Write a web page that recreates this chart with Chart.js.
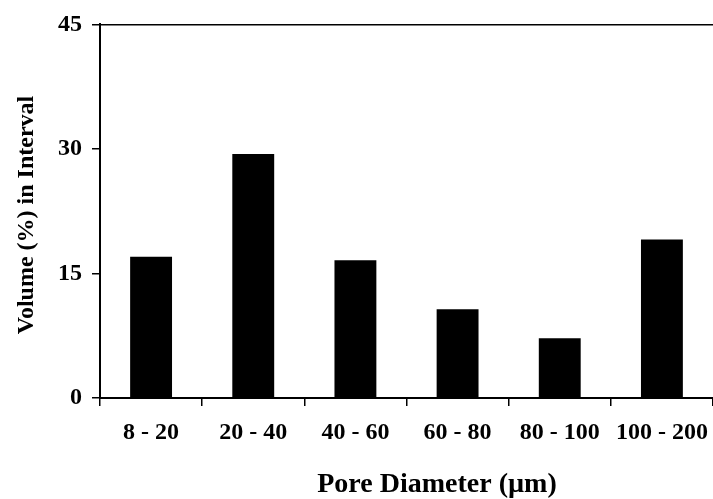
<!DOCTYPE html>
<html>
<head>
<meta charset="utf-8">
<script src="https://cdn.jsdelivr.net/npm/chart.js@4"></script>
<style>
  html, body { margin: 0; padding: 0; background: #fff; overflow: hidden; }
  #wrap { width: 713px; height: 499px; }
</style>
</head>
<body>
<div id="wrap"><canvas id="chart" width="713" height="499"></canvas></div>
<script>
const categories = ["8 - 20", "20 - 40", "40 - 60", "60 - 80", "80 - 100", "100 - 200"];
const volumes = [17.0, 29.4, 16.6, 10.7, 7.2, 19.1];
const yTicks = [0, 15, 30, 45];
const xTitle = "Pore Diameter (\u00b5m)";
const yTitle = "Volume (%) in Interval";

const serif = "'Liberation Serif', 'Times New Roman', serif";

// axis titles sit a bit off-centre in the original, so draw them by hand
const titles = {
  id: "titles",
  afterDraw(chart) {
    const ctx = chart.ctx;
    ctx.save();
    ctx.fillStyle = "#000";
    ctx.font = "bold 28px " + serif;
    ctx.textAlign = "center";
    ctx.textBaseline = "alphabetic";
    ctx.fillText(xTitle, 437, 492);

    ctx.font = "bold 24px " + serif;
    ctx.translate(33, 215);
    ctx.rotate(-Math.PI / 2);
    ctx.fillText(yTitle, 0, 0);
    ctx.restore();
  },
};

// keep the plot running right up to the canvas edge, like the cropped original
const noSidePad = (h) => (s) => {
  s.height = h;
  s.paddingLeft = 0;
  s.paddingRight = 0;
};

const config = {
  type: "bar",
  data: {
    labels: categories,
    datasets: [
      {
        data: volumes,
        backgroundColor: "#000",
        borderWidth: 0,
        barPercentage: 0.41,
        categoryPercentage: 1,
      },
    ],
  },
  options: {
    responsive: false,
    animation: false,
    layout: { padding: 0 },
    plugins: {
      legend: { display: false },
      tooltip: { enabled: false },
    },
    scales: {
      x: {
        position: "bottom",
        afterFit: noSidePad(101),
        border: { color: "#000", width: 2 },
        grid: {
          offset: true,
          drawOnChartArea: false,
          drawTicks: true,
          tickLength: 8,
          color: "#000",
          lineWidth: 1.5,
        },
        ticks: {
          color: "#000",
          padding: 12,
          maxRotation: 0,
          font: { family: serif, size: 24, weight: "bold" },
        },
      },
      xTop: {
        position: "top",
        afterFit: noSidePad(21),
        border: { color: "#000", width: 1.5 },
        grid: { display: false, drawTicks: false },
        ticks: { display: false },
      },
      y: {
        min: 0,
        max: 45,
        afterFit: (s) => { s.width = 100; },
        afterBuildTicks: (s) => { s.ticks = yTicks.map((v) => ({ value: v })); },
        border: { color: "#000", width: 2 },
        grid: {
          drawOnChartArea: false,
          drawTicks: true,
          tickLength: 8,
          color: "#000",
          lineWidth: 1.5,
        },
        ticks: {
          color: "#000",
          padding: 10,
          font: { family: serif, size: 24, weight: "bold" },
        },
      },
    },
  },
  plugins: [titles],
};

new Chart(document.getElementById("chart"), config);
</script>
</body>
</html>
